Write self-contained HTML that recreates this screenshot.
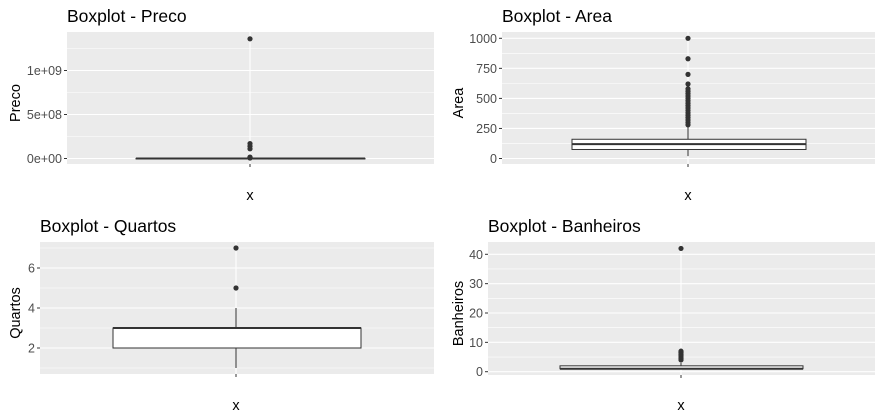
<!DOCTYPE html>
<html><head><meta charset="utf-8"><style>
body{margin:0;background:#fff;}
svg{display:block;font-family:"Liberation Sans",Arial,sans-serif;}
</style></head><body>
<svg id="c" width="883" height="420" viewBox="0 0 883 420"></svg>
<script>
const panelTitles = ["Boxplot - Preco","Boxplot - Area","Boxplot - Quartos","Boxplot - Banheiros"];
const yTitles = ["Preco","Area","Quartos","Banheiros"];
const tickValues = [[0,5e8,1e9],[0,250,500,750,1000],[2,4,6],[0,10,20,30,40]];
const tickLabels = [["0e+00","5e+08","1e+09"],["0","250","500","750","1000"],["2","4","6"],["0","10","20","30","40"]];
const minorTicks = [[2.5e8,7.5e8,1.25e9],[125,375,625,875],[1,3,5,7],[5,15,25,35]];
// box stats: [lowerWhisker, q1, median, q3, upperWhisker]
const boxStats = [[0,2e5,5e5,1e6,2e6],[20,75,120,160,270],[1,2,3,3,4],[1,1,1,2,3]];
const outliers = [
 [1.36e9,1.7e8,1.4e8,1.1e8,1.6e7,1.2e7,8e6,5e6],
 [1000,830,700,620,580,560,540,520,500,480,460,440,420,400,380,360,340,320,300,280],
 [5,7],
 [4,4.5,5,5.5,6,6.5,7,42]
];
const panels = [
 {x0:67,x1:434,y0:32,y1:164,yA:[158.5,70.5],vA:[0,1e9],bx:[136,365],cx:250,tx:67,ty:16,ytx:15,xlab:195},
 {x0:502,x1:875,y0:32,y1:164,yA:[158.5,38.3],vA:[0,1000],bx:[572,806],cx:688,tx:502,ty:16,ytx:458,xlab:195},
 {x0:40,x1:434,y0:242,y1:374,yA:[348,268],vA:[2,6],bx:[113,361],cx:236,tx:40,ty:226,ytx:15,xlab:405},
 {x0:488,x1:875,y0:242,y1:375,yA:[371.7,254.3],vA:[0,40],bx:[560,803],cx:681,tx:488,ty:226,ytx:458,xlab:405}
];
const NS="http://www.w3.org/2000/svg", svg=document.getElementById('c');
function mk(t,a,p){const e=document.createElementNS(NS,t);for(const k in a)e.setAttribute(k,a[k]);(p||svg).appendChild(e);return e;}
panels.forEach((P,i)=>{
 const g=mk('g',{});
 
 
 const y=v=>P.yA[0]+(v-P.vA[0])*(P.yA[1]-P.yA[0])/(P.vA[1]-P.vA[0]);
 const bg=mk('rect',{x:P.x0,y:P.y0,width:P.x1-P.x0,height:P.y1-P.y0,fill:'#ebebeb'},g);
 
 
 minorTicks[i].forEach(v=>{const yy=y(v);if(yy>P.y0&&yy<P.y1)mk('line',{x1:P.x0,x2:P.x1,y1:yy,y2:yy,stroke:'#fff','stroke-width':0.6},g);});
 tickValues[i].forEach((v,j)=>{const yy=y(v);
  mk('line',{x1:P.x0,x2:P.x1,y1:yy,y2:yy,stroke:'#fff','stroke-width':1.1},g);
  mk('line',{x1:P.x0-3,x2:P.x0,y1:yy,y2:yy,stroke:'#333','stroke-width':1},g);
  const t=mk('text',{x:P.x0-5,y:yy+4.5,'text-anchor':'end','font-size':12.5,fill:'#4d4d4d'},g);t.textContent=tickLabels[i][j];
  
  
 });
 mk('line',{x1:P.cx,x2:P.cx,y1:P.y0,y2:P.y1,stroke:'#fff','stroke-width':1.1},g);
 mk('line',{x1:P.cx,x2:P.cx,y1:P.y1,y2:P.y1+3,stroke:'#333','stroke-width':1},g);
 const s=boxStats[i];
 const w=mk('line',{x1:P.cx,x2:P.cx,y1:y(s[0]),y2:y(s[4]),stroke:'#333','stroke-width':1},g);
 
 
 const b=mk('rect',{x:P.bx[0],y:y(s[3]),width:P.bx[1]-P.bx[0],height:Math.max(y(s[1])-y(s[3]),0.5),fill:'#fff',stroke:'#333','stroke-width':1},g);
 
 
 const m=mk('line',{x1:P.bx[0],x2:P.bx[1],y1:y(s[2]),y2:y(s[2]),stroke:'#333','stroke-width':2},g);
 
 
 outliers[i].forEach(v=>{const c=mk('circle',{cx:P.cx,cy:y(v),r:2.6,fill:'#333'},g);
  
  });
 const tt=mk('text',{x:P.tx,y:P.ty+6,'font-size':17.5,fill:'#000'},g);tt.textContent=panelTitles[i];
 
 
 const ym=(P.y0+P.y1)/2;
 const yt=mk('text',{x:P.ytx,y:ym,'font-size':14.5,fill:'#000','text-anchor':'middle',transform:`rotate(-90 ${P.ytx+5} ${ym})`},g);yt.textContent=yTitles[i];
 
 
 const xt=mk('text',{x:P.cx,y:P.xlab+5,'font-size':14.5,fill:'#000','text-anchor':'middle'},g);xt.textContent='x';
 
 
});
</script>
</body></html>
